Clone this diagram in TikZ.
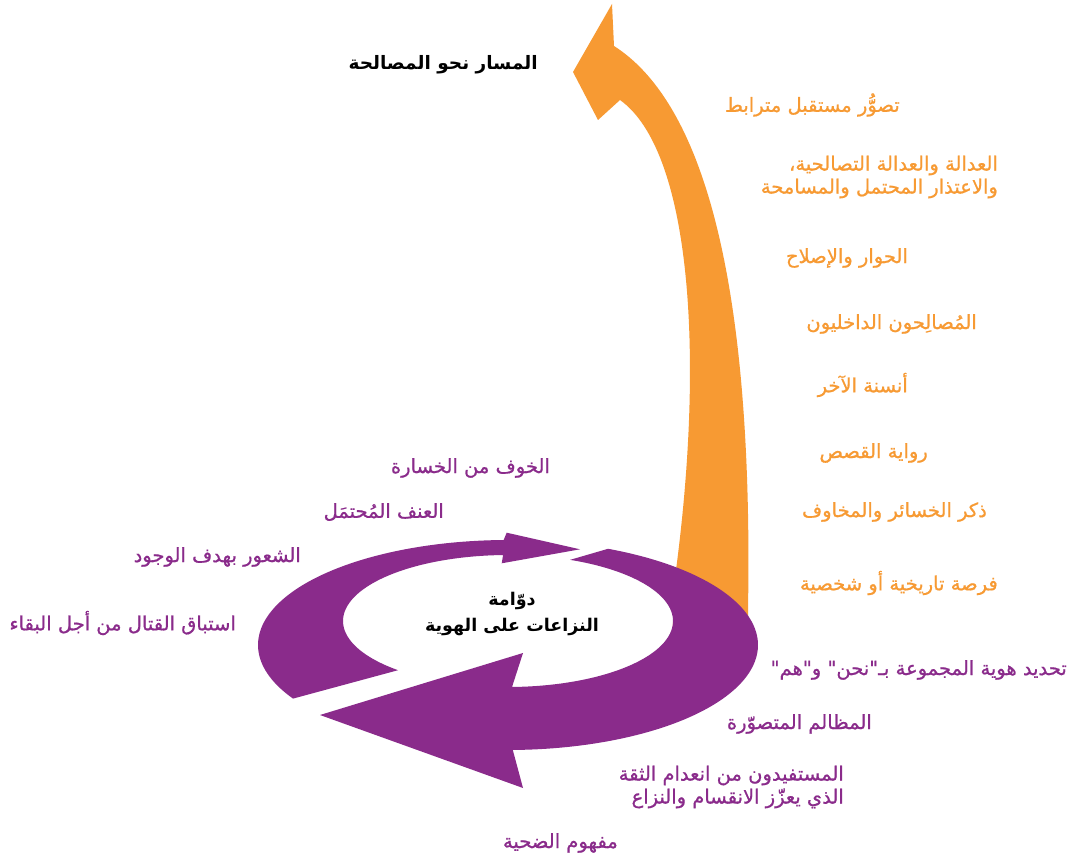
\documentclass[tikz,border=0pt]{standalone}
\usepackage{fontspec}
\TeXXeTstate=1
\newfontfamily\arabicfont[Script=Arabic]{DejaVu Sans}
\newfontfamily\arabicmed[Script=Arabic,FakeBold=0.8]{DejaVu Sans}
\definecolor{orng}{HTML}{F79A33}
\definecolor{purp}{HTML}{8A2B8B}
\newcommand{\artext}[1]{\beginR #1\endR}
\tikzset{
  lbl/.style={inner sep=0pt, anchor=east, align=right, font=\arabicmed\fontsize{19.5}{23}\selectfont},
  otext/.style={lbl, text=orng},
  ptext/.style={lbl, text=purp},
  btext/.style={inner sep=0pt, align=center, text=black, font=\arabicfont\bfseries\fontsize{17.5}{26}\selectfont},
}
\begin{document}
\begin{tikzpicture}[x=1pt,y=-1pt]
\useasboundingbox (0,0) rectangle (1080,858);
\fill[white] (0,0) rectangle (1080,858);
% orange arrow (behind the ring)
\fill[orng] (748,640) -- (748,610) .. controls (752,380) and (730,120) .. (614,46)
  -- (612,4) -- (573,72) -- (598,120) -- (620,100)
  .. controls (690,150) and (705,350) .. (676,570) -- (672,640) -- cycle;
% purple ring: upper-left arrow
\fill[purp] plot[domain=149.3:269, samples=80] ({508+250*cos(\x)},{645+105*sin(\x)})
  -- (506.7,532.7) -- (580,549.3) -- (501.7,563.3)
  -- plot[domain=268.3:131.8, samples=80] ({508+165*cos(\x)},{621+66*sin(\x)}) -- cycle;
% purple ring: lower-right arrow
\fill[purp] plot[domain=-66.4:88.9, samples=100] ({508+250*cos(\x)},{645+105*sin(\x)})
  -- (523,788) -- (320,715) -- (523,653)
  -- plot[domain=88.6:-67.9, samples=100] ({508+165*cos(\x)},{621+66*sin(\x)}) -- cycle;
% titles
\node[btext, anchor=east, font=\arabicfont\bfseries\fontsize{18.5}{26}\selectfont] (title) at (538,65) {\artext{المسار نحو المصالحة}};
\node[btext] (centre) at (512,614) {\artext{دوّامة}\\\artext{النزاعات على الهوية}};
% orange labels
\node[otext] (o1) at (900,105) {\artext{تصوُّر مستقبل مترابط}};
\node[otext] (o2) at (998,177) {\artext{العدالة والعدالة التصالحية،}\\\artext{والاعتذار المحتمل والمسامحة}};
\node[otext] (o3) at (908,258) {\artext{الحوار والإصلاح}};
\node[otext] (o4) at (977,324) {\artext{المُصالِحون الداخليون}};
\node[otext] (o5) at (908,385) {\artext{أنسنة الآخر}};
\node[otext] (o6) at (928,453) {\artext{رواية القصص}};
\node[otext] (o7) at (987,512) {\artext{ذكر الخسائر والمخاوف}};
\node[otext] (o8) at (998,583) {\artext{فرصة تاريخية أو شخصية}};
% purple labels
\node[ptext] (p1) at (550,468) {\artext{الخوف من الخسارة}};
\node[ptext] (p2) at (444,512) {\artext{العنف المُحتمَل}};
\node[ptext] (p3) at (301,557) {\artext{الشعور بهدف الوجود}};
\node[ptext] (p4) at (236,623) {\artext{استباق القتال من أجل البقاء}};
\node[ptext] (p5) at (1067,670) {\artext{تحديد هوية المجموعة بـ"نحن" و"هم"}};
\node[ptext] (p6) at (872,724) {\artext{المظالم المتصوّرة}};
\node[ptext] (p7) at (844,787) {\artext{المستفيدون من انعدام الثقة}\\\artext{الذي يعزّز الانقسام والنزاع}};
\node[ptext] (p8) at (618,843) {\artext{مفهوم الضحية}};
\end{tikzpicture}
\end{document}
